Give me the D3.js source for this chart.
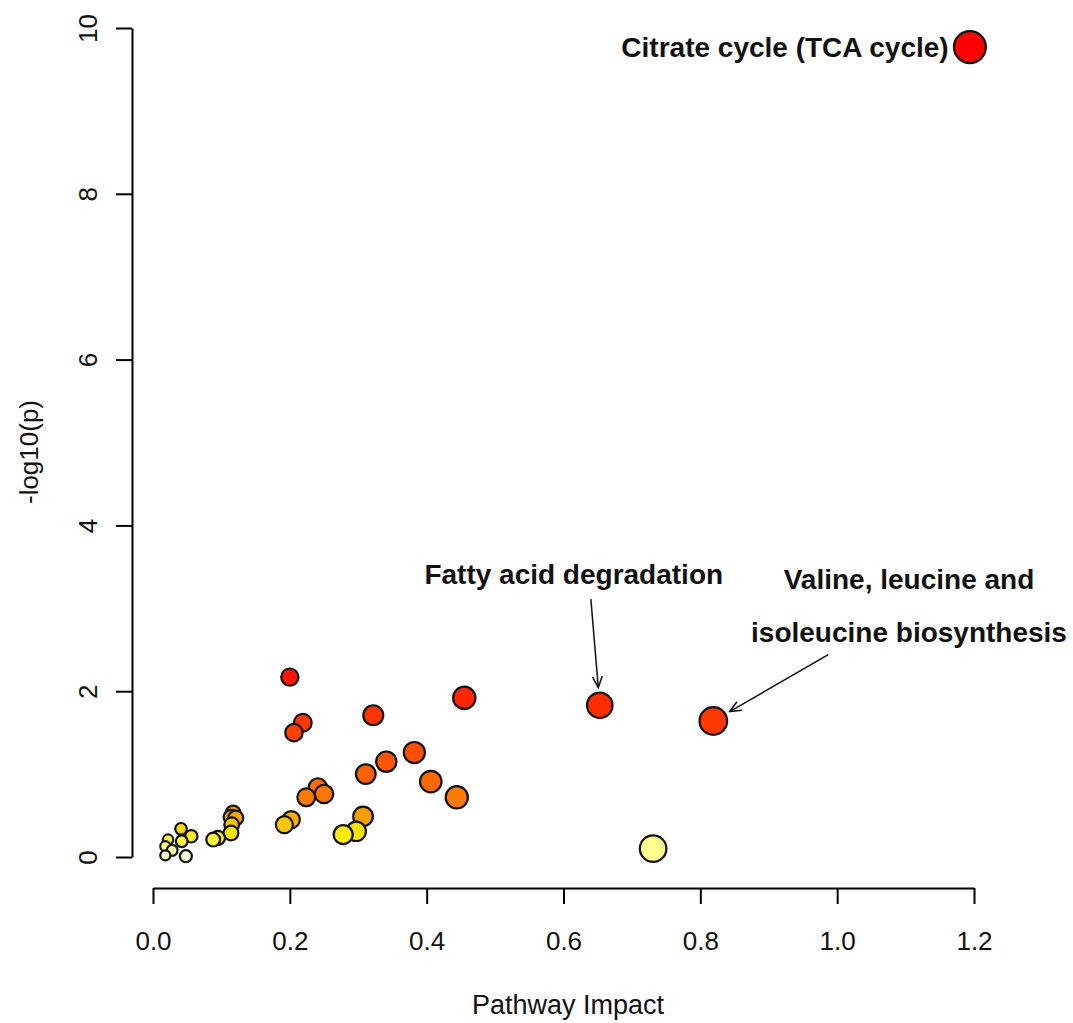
<!DOCTYPE html>
<html>
<head>
<meta charset="utf-8">
<script src="https://cdn.jsdelivr.net/npm/d3@7"></script>
<style>
  body { margin: 0; background: #fff; }
  text { font-family: "Liberation Sans", Arial, sans-serif; }
</style>
</head>
<body>
<div id="chart"></div>
<script>
// pathway impact (x) and -log10(p) (y)
var impact = [1.194, 0.653, 0.819, 0.731, 0.455, 0.200, 0.322, 0.219, 0.206, 0.382,
              0.341, 0.311, 0.406, 0.444, 0.241, 0.250, 0.224, 0.307, 0.202, 0.192,
              0.297, 0.278, 0.117, 0.114, 0.121, 0.115, 0.114, 0.095, 0.088, 0.041,
              0.056, 0.042, 0.022, 0.018, 0.028, 0.018, 0.048];
var logp   = [9.77, 1.83, 1.64, 0.10, 1.92, 2.17, 1.71, 1.62, 1.50, 1.26,
              1.15, 1.00, 0.91, 0.72, 0.84, 0.76, 0.72, 0.49, 0.45, 0.39,
              0.31, 0.27, 0.53, 0.48, 0.47, 0.39, 0.29, 0.23, 0.21, 0.34,
              0.25, 0.19, 0.21, 0.13, 0.08, 0.02, 0.01];

var xTicks = [0, 0.2, 0.4, 0.6, 0.8, 1.0, 1.2];
var yTicks = [0, 2, 4, 6, 8, 10];

// labelled pathways: index into the arrays, label lines, label anchor (data units), arrow start
var labels = [
  {i: 0, lines: ["Citrate cycle (TCA cycle)"], lx: 1.163, ly: 9.65, anchor: "end", arrow: null},
  {i: 1, lines: ["Fatty acid degradation"], lx: 0.615, ly: 3.29, anchor: "middle", arrow: [0.640, 3.11]},
  {i: 2, lines: ["Valine, leucine and", "isoleucine biosynthesis"], lx: 1.105, ly: 3.23, anchor: "middle", arrow: [0.987, 2.44]}
];

var width = 1073, height = 1023;
var svg = d3.select("#chart").append("svg")
    .attr("width", width)
    .attr("height", height);

var x = d3.scaleLinear().domain([0, 1.2]).range([153, 974]);
var y = d3.scaleLinear().domain([0, 10]).range([857, 28]);
var r = d3.scaleSqrt().domain([0, 1.2]).range([3.5, 16]);
var color = d3.scaleLinear()
    .domain([0, 0.15, 0.3, 0.5, 0.8, 1.2, 1.6, 2.2, 10])
    .range(["#FFFFE6", "#FFFF60", "#FFE600", "#F59A00", "#FF7000", "#FF5200", "#FF3A00", "#FF1500", "#FF0000"]);

// axes, R base style
var xAxis = svg.append("g")
    .attr("transform", "translate(0,888)")
    .call(d3.axisBottom(x).tickValues(xTicks).tickFormat(d3.format(".1f")).tickSizeOuter(0).tickSizeInner(16).tickPadding(28));
xAxis.select(".domain").attr("stroke-width", 2);
xAxis.selectAll(".tick line").attr("stroke-width", 2);
xAxis.selectAll(".tick text").attr("font-size", 26).attr("fill", "#111")
    .style("font-family", "'Liberation Sans', Arial, sans-serif");

var yAxis = svg.append("g")
    .attr("transform", "translate(132,0)")
    .call(d3.axisLeft(y).tickValues(yTicks).tickFormat(d3.format("d")).tickSizeOuter(0).tickSizeInner(16));
yAxis.select(".domain").attr("stroke-width", 2);
yAxis.selectAll(".tick line").attr("stroke-width", 2);
yAxis.selectAll(".tick text")
    .attr("x", null).attr("dy", null)
    .attr("transform", "translate(-35,0) rotate(-90)")
    .attr("text-anchor", "middle")
    .attr("font-size", 26).attr("fill", "#111")
    .style("font-family", "'Liberation Sans', Arial, sans-serif");

svg.append("text")
    .attr("x", 568).attr("y", 1014)
    .attr("text-anchor", "middle")
    .attr("font-size", 27).attr("fill", "#111")
    .text("Pathway Impact");

svg.append("text")
    .attr("transform", "translate(38,452) rotate(-90)")
    .attr("text-anchor", "middle")
    .attr("font-size", 26).attr("fill", "#111")
    .text("-log10(p)");

// points
var pts = impact.map(function(d, i) { return {x: d, y: logp[i]}; });

svg.append("g").selectAll("circle")
    .data(pts)
    .enter().append("circle")
    .attr("cx", function(d) { return x(d.x); })
    .attr("cy", function(d) { return y(d.y); })
    .attr("r", function(d) { return r(d.x); })
    .attr("fill", function(d) { return color(d.y); })
    .attr("stroke", "#111")
    .attr("stroke-width", 2.2);

// annotations
svg.append("defs").append("marker")
    .attr("id", "arr")
    .attr("viewBox", "0 0 20 20")
    .attr("refX", 18).attr("refY", 10)
    .attr("markerWidth", 14).attr("markerHeight", 14)
    .attr("markerUnits", "userSpaceOnUse")
    .attr("orient", "auto")
    .append("path")
    .attr("d", "M2,3 L18,10 L2,17")
    .attr("fill", "none")
    .attr("stroke", "#111")
    .attr("stroke-width", 2.2);

labels.forEach(function(l) {
  var t = svg.append("text")
      .attr("x", x(l.lx)).attr("y", y(l.ly))
      .attr("text-anchor", l.anchor)
      .attr("font-size", 28)
      .attr("font-weight", "bold")
      .attr("fill", "#111");
  l.lines.forEach(function(s, k) {
    t.append("tspan").attr("x", x(l.lx)).attr("dy", k ? 53 : 0).text(s);
  });
  if (l.arrow) {
    var p = pts[l.i];
    var x0 = x(l.arrow[0]), y0 = y(l.arrow[1]);
    var x1 = x(p.x), y1 = y(p.y);
    var dx = x1 - x0, dy = y1 - y0, len = Math.sqrt(dx * dx + dy * dy);
    var gap = r(p.x) + 5;
    svg.append("line")
        .attr("x1", x0).attr("y1", y0)
        .attr("x2", x1 - dx / len * gap).attr("y2", y1 - dy / len * gap)
        .attr("stroke", "#111")
        .attr("stroke-width", 1.5)
        .attr("marker-end", "url(#arr)");
  }
});
</script>
</body>
</html>
